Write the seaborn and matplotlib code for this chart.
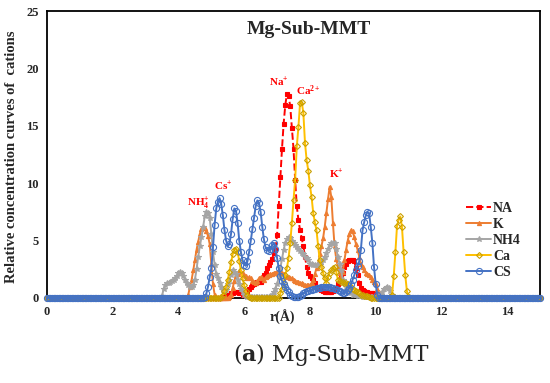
import numpy as np
import pandas as pd
import matplotlib
matplotlib.use("Agg")
import matplotlib.pyplot as plt
import seaborn as sns

# ---------------- data ----------------
series_names = ["NA", "K", "NH4", "Ca", "CS"]

# r grid (Å), step 0.05 from 0 to 15
r = np.round(np.arange(301) * 0.05, 2)
lead_zeros = [0.0] * 70     # r = 0.00 .. 3.45
trail_zeros = [0.0] * 80    # r = 11.05 .. 15.00

# values read for r = 3.50 .. 11.00 (step 0.05), rows of 10 points
na_core = [
    0, 0, 0, 0, 0, 0, 0, 0, 0, 0,
    0, 0, 0, 0, 0, 0, 0, 0, 0, 0,
    0, 0, 0, 0, 0, 0, 0, 0, 0, 0,
    0, 0, 0, 0, 0, 0, 0, 0.1, 0.1, 0.2,
    0.3, 0.3, 0.4, 0.4, 0.5, 0.5, 0.5, 0.4, 0.4, 0.3,
    0.3, 0.4, 0.6, 0.8, 1.0, 1.1, 1.2, 1.3, 1.4, 1.4,
    1.4, 1.6, 2.0, 2.2, 2.6, 2.9, 3.1, 3.4, 3.9, 4.2,
    5.5, 8.0, 10.5, 13.0, 15.2, 16.8, 17.8, 17.6, 16.7, 14.8,
    13.0, 10.3, 8.0, 6.8, 5.9, 5.2, 4.5, 3.6, 2.7, 2.2,
    1.9, 1.7, 1.6, 1.3, 1.0, 0.9, 0.8, 0.7, 0.6, 0.5,
    0.5, 0.5, 0.5, 0.5, 0.6, 0.7, 0.9, 1.2, 1.6, 2.0,
    2.2, 2.7, 3.0, 3.2, 3.3, 3.3, 3.3, 3.2, 2.6, 2.0,
    1.3, 0.9, 0.7, 0.6, 0.5, 0.5, 0.4, 0.4, 0.4, 0.4,
    0.3, 0.2, 0.1, 0, 0, 0, 0, 0, 0, 0,
    0, 0, 0, 0, 0, 0, 0, 0, 0, 0,
    0,
]
k_core = [
    0, 0, 0, 0, 0, 0, 0, 0, 0, 0,
    0, 0, 0, 0, 0, 0, 0.3, 1.0, 1.6, 2.4,
    3.3, 4.2, 4.9, 5.6, 6.0, 6.2, 6.1, 5.8, 5.4, 4.7,
    3.0, 1.2, 0.3, 0.1, 0, 0, 0, 0, 0, 0,
    0, 0.1, 0.3, 0.9, 1.5, 1.9, 2.1, 2.3, 2.3, 2.2,
    2.0, 1.9, 1.7, 1.8, 1.7, 1.5, 1.4, 1.3, 1.5, 1.7,
    1.8, 1.7, 1.6, 1.8, 1.9, 2.0, 2.1, 2.1, 2.2, 2.2,
    2.3, 2.4, 2.3, 2.2, 2.1, 1.9, 1.8, 1.8, 1.7, 1.7,
    1.6, 1.5, 1.4, 1.4, 1.3, 1.3, 1.2, 1.1, 1.1, 1.1,
    1.1, 1.3, 1.6, 2.1, 2.6, 3.0, 3.8, 4.5, 5.2, 6.2,
    7.4, 8.6, 9.7, 8.8, 6.5, 4.5, 3.4, 2.7, 2.2, 1.9,
    2.3, 3.3, 4.2, 5.0, 5.6, 5.9, 5.8, 5.3, 4.7, 4.2,
    3.6, 3.0, 2.7, 2.4, 2.2, 2.1, 2.0, 1.8, 1.6, 1.4,
    1.2, 0.8, 0.5, 0.2, 0.1, 0, 0, 0, 0, 0,
    0, 0, 0, 0, 0, 0, 0, 0, 0, 0,
    0,
]
nh4_core = [
    0.2, 0.8, 1.1, 1.3, 1.3, 1.4, 1.5, 1.6, 1.7, 1.9,
    2.2, 2.3, 2.2, 1.9, 1.6, 1.3, 1.1, 1.0, 1.0, 1.1,
    1.6, 2.5, 3.6, 4.5, 5.3, 6.2, 7.1, 7.5, 7.4, 7.0,
    5.6, 4.0, 2.9, 2.1, 1.7, 1.3, 1.0, 0.7, 0.6, 0.7,
    1.2, 1.6, 2.0, 2.4, 2.3, 2.1, 1.6, 1.2, 0.8, 0.5,
    0.3, 0.2, 0.1, 0.1, 0.1, 0.1, 0.1, 0.1, 0.1, 0.1,
    0.1, 0.1, 0.1, 0.1, 0.1, 0.1, 0.2, 0.3, 0.5, 0.8,
    1.2, 1.8, 2.6, 3.4, 4.2, 4.8, 5.1, 5.3, 5.2, 5.0,
    4.8, 4.6, 4.4, 4.3, 4.1, 3.9, 3.8, 3.6, 3.5, 3.3,
    3.0, 3.0, 2.9, 2.9, 2.9, 2.9, 2.9, 3.1, 3.3, 3.6,
    3.9, 4.3, 4.6, 4.8, 4.8, 4.8, 4.3, 3.6, 3.0, 2.4,
    1.6, 1.3, 1.0, 0.7, 0.5, 0.4, 0.3, 0.3, 0.3, 0.2,
    0.2, 0.2, 0.1, 0.1, 0.1, 0.1, 0.1, 0.1, 0.1, 0.1,
    0.1, 0.1, 0.2, 0.3, 0.5, 0.8, 0.9, 1.0, 0.9, 0.6,
    0.3, 0.1, 0, 0, 0, 0, 0, 0, 0, 0,
    0,
]
ca_core = [
    0, 0, 0, 0, 0, 0, 0, 0, 0, 0,
    0, 0, 0, 0, 0, 0, 0, 0, 0, 0,
    0, 0, 0, 0, 0, 0, 0, 0, 0, 0,
    0, 0, 0, 0, 0, 0, 0.1, 0.3, 0.6, 1.0,
    1.6, 2.3, 3.1, 3.8, 4.2, 4.3, 4.0, 3.2, 2.4, 1.7,
    1.1, 0.6, 0.3, 0.1, 0, 0, 0, 0, 0, 0,
    0, 0, 0, 0, 0, 0, 0, 0, 0, 0,
    0, 0, 0.4, 0.8, 1.3, 2.0, 2.6, 3.5, 4.8, 6.5,
    8.5, 10.3, 13.2, 14.9, 17.0, 17.1, 16.1, 13.5, 12.0, 11.1,
    9.8, 8.8, 7.4, 6.6, 5.9, 4.5, 3.3, 2.7, 2.2, 1.7,
    1.3, 1.8, 2.2, 2.4, 2.6, 2.7, 2.3, 1.6, 1.5, 1.4,
    1.4, 1.3, 1.3, 1.2, 1.1, 1.0, 0.8, 0.7, 0.6, 0.5,
    0.4, 0.3, 0.3, 0.2, 0.2, 0.2, 0.1, 0, 0, 0,
    0, 0, 0, 0, 0, 0, 0, 0, 0, 0.1,
    0.3, 1.9, 4.0, 6.3, 6.8, 7.1, 6.2, 4.0, 2.0, 0.6,
    0.1,
]
cs_core = [
    0, 0, 0, 0, 0, 0, 0, 0, 0, 0,
    0, 0, 0, 0, 0, 0, 0, 0, 0, 0,
    0, 0, 0, 0, 0, 0, 0.1, 0.4, 1.0, 1.8,
    2.6, 4.4, 6.4, 7.8, 8.4, 8.7, 8.2, 7.2, 5.9, 5.0,
    4.5, 4.7, 5.6, 6.9, 7.8, 7.6, 6.5, 5.0, 4.0, 3.3,
    2.9, 2.8, 3.2, 4.0, 5.0, 6.0, 7.0, 8.0, 8.5, 8.3,
    7.5, 6.2, 5.1, 4.4, 4.2, 4.1, 4.3, 4.6, 4.8, 4.3,
    3.5, 2.6, 1.9, 1.5, 1.2, 1.0, 0.7, 0.5, 0.3, 0.2,
    0.1, 0.1, 0.1, 0.1, 0.2, 0.3, 0.4, 0.5, 0.6, 0.6,
    0.7, 0.7, 0.8, 0.8, 0.9, 0.9, 0.9, 1.0, 1.0, 1.0,
    1.0, 1.0, 1.0, 0.9, 0.9, 0.8, 0.8, 0.7, 0.6, 0.5,
    0.4, 0.4, 0.5, 0.7, 0.9, 1.2, 1.6, 2.0, 2.4, 2.8,
    3.2, 4.2, 5.9, 6.6, 7.2, 7.5, 7.4, 6.2, 4.8, 2.7,
    1.2, 0.3, 0, 0, 0, 0, 0, 0, 0, 0,
    0, 0, 0, 0, 0, 0, 0, 0, 0, 0,
    0,
]

na_vals = lead_zeros + na_core + trail_zeros
k_vals = lead_zeros + k_core + trail_zeros
nh4_vals = lead_zeros + nh4_core + trail_zeros
ca_vals = lead_zeros + ca_core + trail_zeros
cs_vals = lead_zeros + cs_core + trail_zeros

x_ticks = [0, 2, 4, 6, 8, 10, 12, 14]
y_ticks = [0, 5, 10, 15, 20, 25]

peak_labels = [r"Na$^{\mathbf{+}}$", r"Ca$^{\mathbf{2+}}$", r"K$^{\mathbf{+}}$",
               r"Cs$^{\mathbf{+}}$", r"NH$^{\mathbf{+}}_{\mathbf{4}}$"]
peak_label_x = [7.05, 7.95, 8.8, 5.35, 4.6]
peak_label_y = [18.8, 18.1, 10.8, 9.7, 8.3]

# ---------------- style ----------------
sns.set_theme(style="white")
plt.rcParams["font.family"] = ["Liberation Serif", "DejaVu Serif"]
plt.rcParams["font.weight"] = "bold"
plt.rcParams["mathtext.fontset"] = "custom"
plt.rcParams["mathtext.rm"] = "Liberation Serif:bold"
plt.rcParams["mathtext.bf"] = "Liberation Serif:bold"
plt.rcParams["mathtext.it"] = "Liberation Serif:bold"

W, H = 550, 383
fig = plt.figure(figsize=(W / 100, H / 100), dpi=100)
ax = fig.add_axes([47 / W, 1 - 298 / H, 493 / W, 287 / H])

styles = {
    "NA": dict(color="#FF0000", marker="s", markersize=2.6, markerfacecolor="#FF0000",
               markeredgecolor="#FF0000", linestyle="--"),
    "K": dict(color="#ED7D31", marker="^", markersize=3.0, markerfacecolor="#ED7D31",
              markeredgecolor="#ED7D31", linestyle="-"),
    "NH4": dict(color="#A5A5A5", marker="*", markersize=4.0, markerfacecolor="#A5A5A5",
                markeredgecolor="#A5A5A5", linestyle="-"),
    "Ca": dict(color="#FFC000", marker="D", markersize=3.0, markerfacecolor="none",
               markeredgecolor="#C9A000", linestyle="-"),
    "CS": dict(color="#4472C4", marker="o", markersize=4.4, markerfacecolor="none",
               markeredgecolor="#4472C4", linestyle="-"),
}
all_vals = [na_vals, k_vals, nh4_vals, ca_vals, cs_vals]

for z, (name, vals) in enumerate(zip(series_names, all_vals)):
    st = styles[name]
    sns.lineplot(x=r, y=vals, ax=ax, label=name, errorbar=None, sort=False,
                 linewidth=1.4, markeredgewidth=0.8, zorder=3 + z, clip_on=False, **st)

ax.set_xlim(0, 15)
ax.set_ylim(0, 25)
ax.set_xticks(x_ticks)
ax.set_yticks(y_ticks)
ax.tick_params(axis="both", labelsize=9, direction="in", length=3, width=1,
               color="black", pad=6)
for lab in ax.get_xticklabels() + ax.get_yticklabels():
    lab.set_fontweight("bold")
for sp in ax.spines.values():
    sp.set_color("black")
    sp.set_linewidth(1.3)
    sp.set_zorder(2)

ax.set_xlabel("r(Å)", fontsize=10, fontweight="bold")
ax.xaxis.set_label_coords((282 - 47) / 493, -0.04)
ax.set_ylabel("")

fig.text(12 / W, 1 - 157 / H, "Relative concentration curves of  cations",
         rotation=90, ha="center", va="center", fontsize=10.5, fontweight="bold")

ax.text((309 - 47) / 493, (298 - 30) / 287, "Mg-Sub-MMT", transform=ax.transAxes,
        ha="center", va="center", fontsize=14, fontweight="bold")

for t, tx, ty in zip(peak_labels, peak_label_x, peak_label_y):
    ax.text(tx, ty, t, color="#FF0000", fontsize=8, fontweight="bold",
            ha="center", va="center", zorder=10)

leg = ax.legend(loc="upper left", bbox_to_anchor=((466 - 47) / 493, (298 - 202) / 287),
                frameon=False, prop={"family": "Liberation Serif", "weight": "bold", "size": 10},
                handlelength=1.8, handletextpad=0.15, labelspacing=0.22,
                borderpad=0, borderaxespad=0)

# caption "(a) Mg-Sub-MMT" with bold "a"
renderer = fig.canvas.get_renderer()
cap_parts = [("(", "normal"), ("a", "bold"), (") Mg-Sub-MMT", "normal")]
cx = 233 / W
cy = 1 - 355 / H
for txt, wt in cap_parts:
    t = fig.text(cx, cy, txt, ha="left", va="center", fontsize=16,
                 family="DejaVu Serif", fontweight=wt)
    bb = t.get_window_extent(renderer)
    cx = bb.x1 / W

fig.savefig("out.png", dpi=100, facecolor="white")
